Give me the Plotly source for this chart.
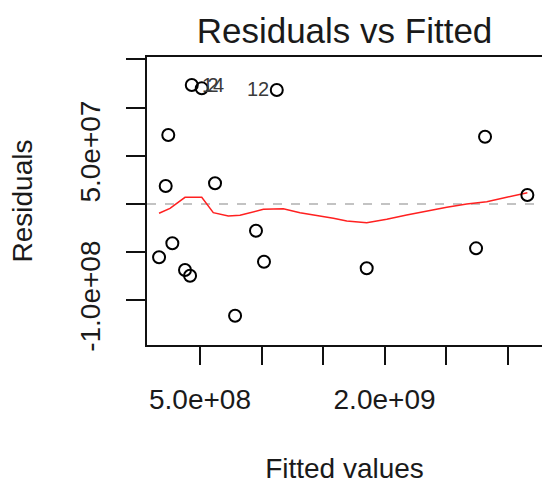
import plotly.graph_objects as go

# Data
fitted = [4.33e8, 5.14e8, 1.124e9, 2.42e8, 2.21e8, 6.22e8, 2.817e9, 3.161e9,
          1.67e8, 2.75e8, 3.78e8, 4.19e8, 9.55e8, 1.020e9, 7.85e8, 1.855e9, 2.744e9]
residuals = [1.234e8, 1.200e8, 1.183e8, 7.16e7, 1.87e7, 2.15e7, 6.98e7, 9.3e6,
             -5.53e7, -4.08e7, -6.85e7, -7.44e7, -2.77e7, -5.99e7, -1.159e8, -6.67e7, -4.60e7]

smooth_x = [1.67e8, 2.56e8, 3.78e8, 5.14e8, 6.08e8, 7.30e8, 8.25e8, 1.015e9, 1.177e9,
            1.313e9, 1.584e9, 1.693e9, 1.855e9, 2.018e9, 2.180e9, 2.343e9, 2.506e9,
            2.668e9, 2.831e9, 2.993e9, 3.161e9]
smooth_y = [-9.6e6, -4.5e6, 6.9e6, 6.9e6, -9.0e6, -1.24e7, -1.17e7, -5.5e6, -4.9e6,
            -9.0e6, -1.48e7, -1.76e7, -1.94e7, -1.59e7, -1.14e7, -7.3e6, -3.4e6,
            0.0, 2.4e6, 6.9e6, 1.17e7]

label_x = [6.06e8, 6.06e8, 9.72e8]
label_y = [1.213e8, 1.213e8, 1.172e8]
label_text = ["14", "2", "12"]

x_tickvals = [5e8, 1e9, 1.5e9, 2e9, 2.5e9, 3e9]
x_ticktext = ["5.0e+08", "", "", "2.0e+09", "", ""]
y_tickvals = [-1e8, -5e7, 0, 5e7, 1e8, 1.5e8]
y_ticktext = ["-1.0e+08", "", "", "5.0e+07", "", ""]

FONT = "Liberation Sans, Arial, sans-serif"

fig = go.Figure()
fig.add_trace(go.Scatter(x=smooth_x, y=smooth_y, mode="lines",
                         line=dict(color="#ff2020", width=1.5), hoverinfo="skip"))
fig.add_trace(go.Scatter(x=fitted, y=residuals, mode="markers",
                         marker=dict(symbol="circle-open", size=12, color="black",
                                     line=dict(width=2, color="black"))))
fig.add_trace(go.Scatter(x=label_x, y=label_y, mode="text", text=label_text,
                         textfont=dict(family=FONT, size=20, color="#3a3a3a"),
                         textposition="middle center", hoverinfo="skip"))

fig.add_shape(type="line", xref="paper", x0=0, x1=1, yref="y", y0=0, y1=0,
              line=dict(color="#b0b0b0", width=1.5, dash="dash"), layer="below")

fig.update_layout(
    width=542, height=485,
    margin=dict(l=147, r=0, t=57, b=140),
    paper_bgcolor="white", plot_bgcolor="white",
    showlegend=False,
    title=dict(text="Residuals vs Fitted", x=0.5, xanchor="center", xref="paper",
               y=0.937, yanchor="middle", yref="container",
               font=dict(family=FONT, size=35, color="#1a1a1a")),
    xaxis=dict(range=[0.69e8, 3.28e9], showgrid=False, zeroline=False,
               showline=True, mirror=True, linecolor="#111", linewidth=2,
               ticks="outside", ticklen=18, tickwidth=2, tickcolor="#111",
               tickvals=x_tickvals, ticktext=x_ticktext, ticklabelstandoff=10,
               tickfont=dict(family=FONT, size=28, color="#1a1a1a"),
               title=dict(text="Fitted values", standoff=45,
                          font=dict(family=FONT, size=28, color="#1a1a1a"))),
    yaxis=dict(range=[-1.463e8, 1.525e8], showgrid=False, zeroline=False,
               showline=True, mirror=False, linecolor="#111", linewidth=2,
               ticks="outside", ticklen=19, tickwidth=2, tickcolor="#111",
               tickvals=y_tickvals, ticktext=y_ticktext, tickangle=-90,
               ticklabelstandoff=15,
               tickfont=dict(family=FONT, size=28, color="#1a1a1a"),
               title=dict(text="Residuals", standoff=34,
                          font=dict(family=FONT, size=28, color="#1a1a1a"))),
)

fig.write_html("out.html")
